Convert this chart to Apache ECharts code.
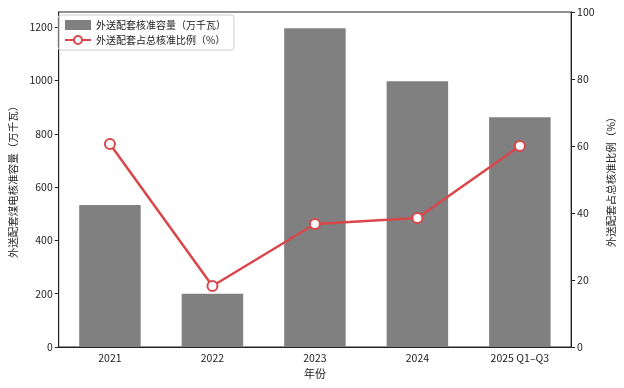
<!DOCTYPE html>
<html><head><meta charset="utf-8">
<script src="https://cdn.jsdelivr.net/npm/echarts@6/dist/echarts.min.js"></script>
<style>html,body{margin:0;padding:0;background:#fff}#c{width:624px;height:388px}</style>
</head><body><div id="c"></div>
<script>
const categories = ['2021', '2022', '2023', '2024', '2025 Q1–Q3'];
const capacity = [533, 200, 1196, 997, 862];
const share = [60.6, 18.2, 36.7, 38.5, 60.0];
const leftTicks = [0, 200, 400, 600, 800, 1000, 1200];
const rightTicks = [0, 20, 40, 60, 80, 100];
const barName = '外送配套核准容量（万千瓦）';
const lineName = '外送配套占总核准比例（%）';

const font = 'Noto Sans CJK SC';
const chart = echarts.init(document.getElementById('c'));
chart.setOption({
  animation: false,
  textStyle: { fontFamily: font },
  grid: { left: 55, right: 47, top: 12, bottom: 41, show: true, borderColor: '#222', borderWidth: 1 },
  legend: {
    left: 58, top: 15, orient: 'vertical', itemGap: 5, itemWidth: 26, itemHeight: 10,
    borderColor: '#ccc', borderWidth: 1, borderRadius: 3, padding: [5, 8, 5, 6],
    textStyle: { fontSize: 10, color: '#222', fontFamily: font },
    data: [{ name: barName, icon: 'rect' }, { name: lineName }]
  },
  xAxis: {
    type: 'category', data: categories, boundaryGap: true,
    name: '年份', nameLocation: 'middle', nameGap: 21,
    nameTextStyle: { fontSize: 11, color: '#222' },
    axisLine: { lineStyle: { color: '#222' } },
    axisTick: { alignWithLabel: true, length: 4, lineStyle: { color: '#222' } },
    axisLabel: { fontSize: 10.5, color: '#222', margin: 6 }
  },
  yAxis: [{
    type: 'value', min: 0, max: 1257, interval: 200,
    name: '外送配套煤电核准容量（万千瓦）', nameLocation: 'middle', nameGap: 40, nameRotate: 90,
    nameTextStyle: { fontSize: 10.5, color: '#222' },
    axisLine: { show: true, lineStyle: { color: '#222' } },
    axisTick: { show: true, length: 4, lineStyle: { color: '#222' } },
    axisLabel: { fontSize: 10.5, color: '#222', margin: 6, showMaxLabel: false,
      formatter: v => leftTicks.includes(v) ? String(v) : '' },
    splitLine: { show: false }
  }, {
    type: 'value', min: 0, max: 100, interval: 20, position: 'right',
    name: '外送配套占总核准比例（%）', nameLocation: 'middle', nameGap: 30, nameRotate: 90,
    nameTextStyle: { fontSize: 10.5, color: '#222' },
    axisLine: { show: true, lineStyle: { color: '#222' } },
    axisTick: { show: true, length: 4, lineStyle: { color: '#222' } },
    axisLabel: { fontSize: 10.5, color: '#222', margin: 6,
      formatter: v => rightTicks.includes(v) ? String(v) : '' },
    splitLine: { show: false }
  }],
  series: [{
    name: barName, type: 'bar', data: capacity, yAxisIndex: 0,
    barWidth: '60%', itemStyle: { color: '#808080' }
  }, {
    name: lineName, type: 'line', data: share, yAxisIndex: 1,
    symbol: 'circle', symbolSize: 10,
    lineStyle: { color: '#d9474b', width: 2.5 },
    itemStyle: { color: '#fff', borderColor: '#d9474b', borderWidth: 2 }
  }]
});
</script></body></html>
